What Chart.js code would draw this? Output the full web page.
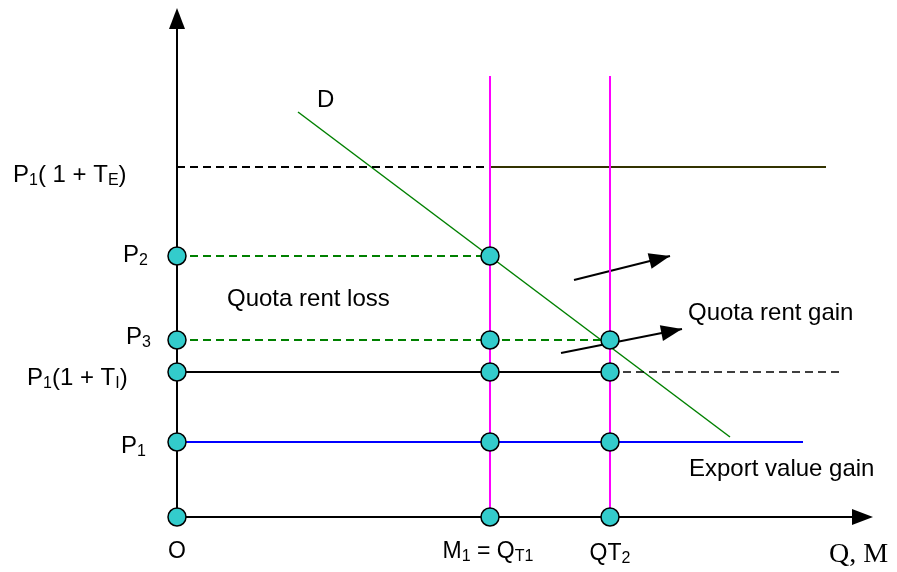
<!DOCTYPE html>
<html>
<head>
<meta charset="utf-8">
<script src="https://cdn.jsdelivr.net/npm/chart.js@4.4.0/dist/chart.umd.min.js"></script>
<style>
  html, body { margin: 0; padding: 0; background: #fff; }
  #wrap { width: 897px; height: 572px; }
</style>
</head>
<body>
<div id="wrap"><canvas id="quota" width="897" height="572"></canvas></div>
<script>
// quantities on the Q, M axis
var qT1 = 31.3;
var qT2 = 43.3;
// price levels
var p1 = 7.5;
var p1Ti = 14.5;
var p3 = 17.7;
var p2 = 26.1;
var p1Te = 35.0;
// demand curve end points
var demandX = [12.1, 55.3];
var demandY = [40.5, 8.0];
// line ends
var axisTopY = 48.9, axisEndX = 67.5;
var pinkTop = 44.1;
var p1End = 62.6, p1TiEnd = 66.6, p1TeEnd = 64.9;
// arrows [from x, from y, to x, to y]
var arrow1 = [39.7, 23.7, 49.3, 26.1];
var arrow2 = [38.4, 16.4, 50.5, 18.8];

var dotX = [0, 0, 0, 0, 0, qT1, qT1, qT1, qT1, qT1, qT2, qT2, qT2, qT2];
var dotY = [p2, p3, p1Ti, p1, 0, p2, p3, p1Ti, p1, 0, p3, p1Ti, p1, 0];

function seg(x1, y1, x2, y2, color, width, dash) {
    return {
        data: [{x: x1, y: y1}, {x: x2, y: y2}],
        showLine: true,
        borderColor: color,
        borderWidth: width,
        borderDash: dash || [],
        pointRadius: 0,
        order: 1
    };
}

var dots = [];
for (var i = 0; i < dotX.length; i++) dots.push({x: dotX[i], y: dotY[i]});

var datasets = [
    {
        data: dots,
        showLine: false,
        pointRadius: 9,
        pointBackgroundColor: '#33CCCC',
        pointBorderColor: '#000',
        pointBorderWidth: 1.5,
        order: 0
    },
    seg(0, 0, 0, axisTopY, '#000', 2),
    seg(0, 0, axisEndX, 0, '#000', 2),
    seg(qT1, 0, qT1, pinkTop, '#FF00FF', 2),
    seg(qT2, 0, qT2, pinkTop, '#FF00FF', 2),
    seg(0, p1Te, qT1, p1Te, '#000', 2, [8, 5]),
    seg(qT1, p1Te, p1TeEnd, p1Te, '#333300', 2),
    seg(0, p2, qT1, p2, '#008000', 2, [8, 5]),
    seg(0, p3, qT2, p3, '#008000', 2, [8, 5]),
    seg(0, p1Ti, qT2, p1Ti, '#000', 2),
    seg(qT2, p1Ti, p1TiEnd, p1Ti, '#000', 1.5, [8, 5]),
    seg(0, p1, p1End, p1, '#0000FF', 2),
    seg(demandX[0], demandY[0], demandX[1], demandY[1], '#008000', 1.5),
    seg(arrow1[0], arrow1[1], arrow1[2], arrow1[3], '#000', 2),
    seg(arrow2[0], arrow2[1], arrow2[2], arrow2[3], '#000', 2)
];

// text with subscripts: [text, isSub]
function rich(ctx, parts, x, y, size, align) {
    var sub = 16;
    var w = 0;
    parts.forEach(function (p) {
        ctx.font = (p[1] ? sub : size) + 'px "Liberation Sans", Arial, sans-serif';
        w += ctx.measureText(p[0]).width;
    });
    if (align === 'center') x -= w / 2;
    parts.forEach(function (p) {
        ctx.font = (p[1] ? sub : size) + 'px "Liberation Sans", Arial, sans-serif';
        ctx.fillText(p[0], x, p[1] ? y + 3 : y);
        x += ctx.measureText(p[0]).width;
    });
}

function head(ctx, xs, ys, a) {
    var x1 = xs.getPixelForValue(a[0]), y1 = ys.getPixelForValue(a[1]);
    var x2 = xs.getPixelForValue(a[2]), y2 = ys.getPixelForValue(a[3]);
    var ang = Math.atan2(y2 - y1, x2 - x1);
    var len = 21, hw = 8;
    ctx.beginPath();
    ctx.moveTo(x2, y2);
    ctx.lineTo(x2 - len * Math.cos(ang) + hw * Math.sin(ang), y2 - len * Math.sin(ang) - hw * Math.cos(ang));
    ctx.lineTo(x2 - len * Math.cos(ang) - hw * Math.sin(ang), y2 - len * Math.sin(ang) + hw * Math.cos(ang));
    ctx.closePath();
    ctx.fill();
}

var extras = {
    id: 'extras',
    afterDatasetsDraw: function (chart) {
        var ctx = chart.ctx, xs = chart.scales.x, ys = chart.scales.y;
        ctx.save();
        ctx.fillStyle = '#000';
        ctx.textBaseline = 'alphabetic';
        // axis arrow heads
        head(ctx, xs, ys, [0, 0, 0, 50.9]);
        head(ctx, xs, ys, [0, 0, 69.6, 0]);
        head(ctx, xs, ys, arrow1);
        head(ctx, xs, ys, arrow2);

        var s = 24;
        rich(ctx, [['P', 0], ['1', 1], ['( 1 + T', 0], ['E', 1], [')', 0]], 13, 182, s);
        rich(ctx, [['P', 0], ['2', 1]], 123, 262, s);
        rich(ctx, [['P', 0], ['3', 1]], 126, 344, s);
        rich(ctx, [['P', 0], ['1', 1], ['(1 + T', 0], ['I', 1], [')', 0]], 27, 385, s);
        rich(ctx, [['P', 0], ['1', 1]], 121, 453, s);
        rich(ctx, [['D', 0]], 317, 107, s);
        rich(ctx, [['Quota rent loss', 0]], 227, 306, s);
        rich(ctx, [['Quota rent gain', 0]], 688, 320, s);
        rich(ctx, [['Export value gain', 0]], 689, 476, s);
        rich(ctx, [['O', 0]], xs.getPixelForValue(0), 558, 23, 'center');
        rich(ctx, [['M', 0], ['1', 1], [' = Q', 0], ['T1', 1]], xs.getPixelForValue(qT1) - 2, 558, 23, 'center');
        rich(ctx, [['QT', 0], ['2', 1]], xs.getPixelForValue(qT2), 560, 23, 'center');
        ctx.font = '28px "Liberation Serif", "Times New Roman", serif';
        ctx.fillText('Q, M', 829, 562);
        ctx.restore();
    }
};

new Chart(document.getElementById('quota').getContext('2d'), {
    type: 'scatter',
    data: { datasets: datasets },
    options: {
        responsive: false,
        animation: false,
        layout: { padding: 0, autoPadding: false },
        scales: {
            x: { type: 'linear', display: false, min: -17.7, max: 72.0 },
            y: { type: 'linear', display: false, min: -5.5, max: 51.7 }
        },
        plugins: {
            legend: { display: false },
            tooltip: { enabled: false }
        },
        elements: { line: { tension: 0 } }
    },
    plugins: [extras]
});
</script>
</body>
</html>
